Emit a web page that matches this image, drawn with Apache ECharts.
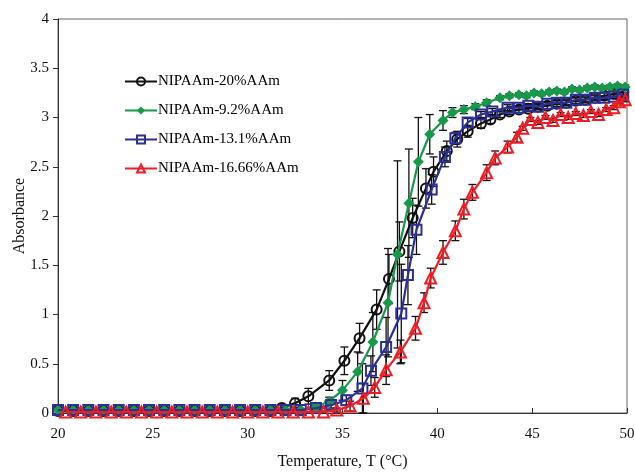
<!DOCTYPE html>
<html><head><meta charset="utf-8">
<script src="https://cdn.jsdelivr.net/npm/echarts@6/dist/echarts.min.js"></script>
<style>html,body{margin:0;padding:0;background:#fff}#c{width:635px;height:472px}</style>
</head><body><div id="c"></div>
<script>
const seriesNames = ['NIPAAm-20%AAm','NIPAAm-9.2%AAm','NIPAAm-13.1%AAm','NIPAAm-16.66%AAm'];
const xTicks = [20,25,30,35,40,45,50];
const yTicks = [0,0.5,1,1.5,2,2.5,3,3.5,4];

const blackT = [20,20.8,21.6,22.4,23.2,24,24.8,25.6,26.4,27.2,28,28.8,29.6,30.4,31.2,31.8,32.5,33.2,34.3,35.1,35.9,36.8,37.45,38.0,38.7,39.4,39.8,40.5,41.05,41.6,42.3,42.8,43.3,43.8,44.3,44.8,45.3,45.8,46.3,46.8,47.3,47.8,48.3,48.8,49.3,49.8];
const blackA = [0.02,0.02,0.02,0.02,0.02,0.02,0.02,0.02,0.02,0.02,0.02,0.02,0.02,0.02,0.02,0.05,0.1,0.17,0.33,0.53,0.76,1.05,1.36,1.64,1.98,2.28,2.45,2.66,2.78,2.86,2.94,2.98,3.03,3.06,3.08,3.09,3.11,3.12,3.14,3.15,3.17,3.18,3.2,3.22,3.24,3.26];
const blackErr = [0,0,0,0,0,0,0,0,0,0,0,0,0,0,0,0.03,0.05,0.08,0.1,0.14,0.15,0.2,0.25,0.3,0.2,0.2,0.15,0.1,0.08,0.06,0.05,0.04,0.03,0.03,0.03,0.03,0.03,0.03,0.03,0.03,0.03,0.03,0.03,0.03,0.03,0.03];

const greenT = [20,20.8,21.6,22.4,23.2,24,24.8,25.6,26.4,27.2,28,28.8,29.6,30.4,31.2,32,32.8,33.6,34.3,35.0,35.8,36.6,37.4,37.9,38.5,39.0,39.6,40.3,40.8,41.4,42.0,42.6,43.3,43.8,44.3,44.7,45.1,45.5,45.9,46.3,46.7,47.1,47.5,47.9,48.3,48.7,49.1,49.5,49.9];
const greenA = [0.03,0.03,0.03,0.03,0.03,0.03,0.03,0.03,0.03,0.03,0.03,0.03,0.03,0.03,0.03,0.03,0.03,0.06,0.12,0.23,0.42,0.72,1.12,1.61,2.13,2.55,2.83,2.97,3.05,3.08,3.11,3.15,3.2,3.22,3.23,3.22,3.25,3.24,3.26,3.27,3.26,3.29,3.28,3.3,3.31,3.3,3.31,3.32,3.31];
const greenErr = [0,0,0,0,0,0,0,0,0,0,0,0,0,0,0,0,0,0.02,0.04,0.1,0.2,0.3,0.55,0.95,0.55,0.45,0.2,0.1,0.05,0.04,0.03,0.03,0.02,0.02,0.02,0.02,0.02,0.02,0.02,0.02,0.02,0.02,0.02,0.02,0.02,0.02,0.02,0.02,0.02];

const blueT = [20,20.8,21.6,22.4,23.2,24,24.8,25.6,26.4,27.2,28,28.8,29.6,30.4,31.2,32,32.8,33.6,34.4,35.2,36.05,36.5,37.3,38.1,38.45,38.9,39.7,40.4,40.95,41.6,42.3,42.9,43.7,44.3,44.8,45.3,45.8,46.3,46.8,47.3,47.8,48.3,48.8,49.3,49.8];
const blueA = [0.03,0.03,0.03,0.03,0.03,0.03,0.03,0.03,0.03,0.03,0.03,0.03,0.03,0.03,0.03,0.03,0.03,0.05,0.08,0.13,0.25,0.43,0.67,1.01,1.4,1.86,2.27,2.6,2.79,2.95,3.03,3.06,3.1,3.1,3.12,3.11,3.14,3.15,3.15,3.18,3.18,3.2,3.2,3.21,3.23];
const blueErr = [0,0,0,0,0,0,0,0,0,0,0,0,0,0,0,0,0,0.02,0.03,0.05,0.25,0.15,0.3,0.5,0.3,0.25,0.15,0.1,0.06,0.04,0.03,0.03,0.03,0.02,0.02,0.02,0.02,0.02,0.02,0.02,0.02,0.02,0.02,0.02,0.02];

const redT = [20.4,21.2,22,22.8,23.6,24.4,25.2,26,26.8,27.6,28.4,29.2,30,30.8,31.6,32.4,33.2,34.0,34.7,35.4,36.1,36.7,37.3,38.05,38.85,39.3,39.65,40.3,40.95,41.4,41.85,42.6,43.05,43.7,44.2,44.5,44.9,45.3,45.7,46.1,46.5,46.9,47.3,47.7,48.1,48.5,48.9,49.3,49.6,49.9];
const redA = [0.01,0.01,0.01,0.01,0.01,0.01,0.01,0.01,0.01,0.01,0.01,0.01,0.01,0.01,0.01,0.01,0.01,0.01,0.03,0.07,0.15,0.26,0.44,0.62,0.86,1.12,1.37,1.63,1.85,2.07,2.24,2.44,2.59,2.7,2.8,2.89,2.98,2.95,3.0,2.97,3.03,3.0,3.04,3.02,3.06,3.03,3.08,3.1,3.16,3.18];
const redErr = [0,0,0,0,0,0,0,0,0,0,0,0,0,0,0,0,0,0.01,0.02,0.05,0.15,0.1,0.15,0.12,0.12,0.1,0.1,0.12,0.1,0.1,0.08,0.08,0.07,0.06,0.05,0.02,0.02,0.02,0.02,0.02,0.02,0.02,0.02,0.02,0.02,0.02,0.02,0.02,0.02,0.02];

const FONT = 'Liberation Serif';
const colors = ['#111111','#16994a','#2b2f96','#f01c24'];
const symbols = ['circle','diamond','rect','triangle'];
const sizes = [10,11,10,11];
const filled = [false,true,false,false];
const sets = [[blackT,blackA,blackErr],[greenT,greenA,greenErr],[blueT,blueA,blueErr],[redT,redA,redErr]];

const pairs = (t,a) => t.map((x,i)=>[x,a[i]]);

const series = [];
sets.forEach((s,k)=>{
  series.push({
    type:'custom', name: seriesNames[k]+'-err', z: 1, silent:true,
    data: s[0].map((x,i)=>[x,s[1][i],s[2][i]]).filter(d=>d[2]>0),
    renderItem: function(params, api){
      const x = api.value(0), y = api.value(1), e = api.value(2);
      const top = api.coord([x, y+e]);
      const bot = api.coord([x, y-e]);
      const st = {stroke:'#111', lineWidth:1.3};
      return {type:'group', children:[
        {type:'line', shape:{x1:top[0],y1:top[1],x2:bot[0],y2:bot[1]}, style:st},
        {type:'line', shape:{x1:top[0]-4,y1:top[1],x2:top[0]+4,y2:top[1]}, style:st},
        {type:'line', shape:{x1:bot[0]-4,y1:bot[1],x2:bot[0]+4,y2:bot[1]}, style:st}
      ]};
    }
  });
});
sets.forEach((s,k)=>{
  series.push({
    type:'line', name: seriesNames[k], z: 2+k,
    data: pairs(s[0], s[1]),
    symbol: symbols[k], symbolSize: sizes[k], showSymbol:true,
    lineStyle:{color:colors[k], width:2.2},
    itemStyle:{color: filled[k]?colors[k]:'rgba(255,255,255,0)', borderColor:colors[k], borderWidth: filled[k]?0:2},
    emphasis:{disabled:true}, animation:false
  });
});

const chart = echarts.init(document.getElementById('c'), null, {renderer:'canvas'});
chart.setOption({
  animation:false,
  backgroundColor:'#fff',
  grid:{left:58, right:8, top:19, bottom:59, containLabel:false, outerBoundsMode:'none', show:true, borderColor:'#666', borderWidth:1, backgroundColor:'transparent'},
  legend:{
    data: seriesNames, orient:'vertical', left:119, top:69,
    itemWidth:32, itemHeight:10, itemGap:14,
    textStyle:{fontFamily:FONT, fontSize:15, color:'#000', padding:[0,0,0,-4]},
    selectedMode:false
  },
  xAxis:{
    type:'value', min:20, max:50, interval:5,
    name:'Temperature, T (°C)', nameLocation:'middle', nameGap:41,
    nameTextStyle:{fontFamily:FONT, fontSize:16, color:'#111'},
    axisLine:{lineStyle:{color:'#333', width:1}},
    axisTick:{inside:true, length:5, lineStyle:{color:'#333'}},
    axisLabel:{fontFamily:FONT, fontSize:15, color:'#111', margin:14, formatter: v => xTicks.includes(v) ? String(v) : ''},
    splitLine:{show:false}
  },
  yAxis:{
    type:'value', min:0, max:4, interval:0.5,
    name:'Absorbance', nameLocation:'middle', nameGap:30, nameRotate:90, nameMoveOverlap:false,
    nameTextStyle:{fontFamily:FONT, fontSize:16, color:'#111'},
    axisLine:{show:true, lineStyle:{color:'#333', width:1}},
    axisTick:{show:true, inside:false, length:5, lineStyle:{color:'#333'}},
    axisLabel:{fontFamily:FONT, fontSize:15, color:'#111', margin:9, formatter: v => yTicks.includes(v) ? String(v) : ''},
    splitLine:{show:false}
  },
  series: series
});
</script></body></html>
